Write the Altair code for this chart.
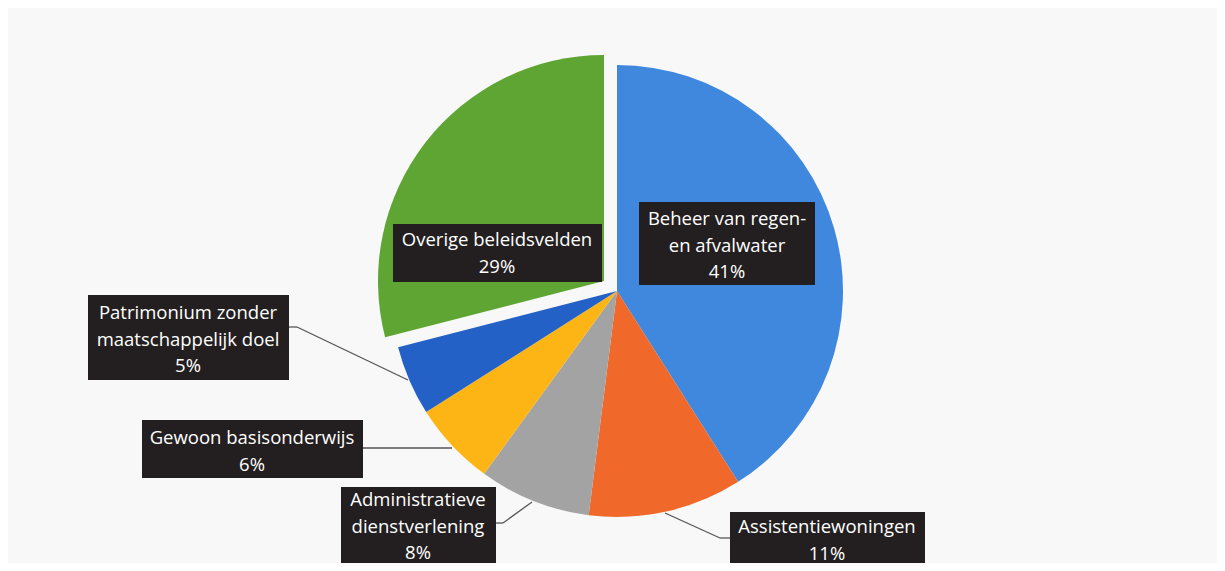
import altair as alt
import pandas as pd

# ---- data ----
categories = [
    "Beheer van regen- en afvalwater",
    "Assistentiewoningen",
    "Administratieve dienstverlening",
    "Gewoon basisonderwijs",
    "Patrimonium zonder maatschappelijk doel",
    "Overige beleidsvelden",
]
label_text = [
    "Beheer van regen-\nen afvalwater",
    "Assistentiewoningen",
    "Administratieve\ndienstverlening",
    "Gewoon basisonderwijs",
    "Patrimonium zonder\nmaatschappelijk doel",
    "Overige beleidsvelden",
]
shares = [41, 11, 8, 6, 5, 29]
slice_order = [1, 2, 3, 4, 5, 6]

# ---- style / layout ----
colors = ["#3f88de", "#f0692a", "#a3a3a3", "#fdb515", "#2461c6", "#5ea533"]
OFF = 8  # page margin (reference pixel -> chart pixel)
CX, CY, R = 617 - OFF, 291 - OFF, 226
EXPLODE = (-13, -10)
FONT = "Open Sans"
FS = 18.5
LH = 26.5
BOX = "#231f20"

# boxes: (x0, x1, y0, y1), first text line centre (x, y) in reference pixels
layout = {
    categories[0]: dict(box=(639, 815, 202, 285), txt=(727, 219)),
    categories[1]: dict(box=(730, 925, 512, 580), txt=(827, 527)),
    categories[2]: dict(box=(341, 496, 487, 580), txt=(418, 500)),
    categories[3]: dict(box=(142, 363, 420, 478), txt=(252, 438)),
    categories[4]: dict(box=(88, 289, 295, 380), txt=(188, 313)),
    categories[5]: dict(box=(393, 602, 224, 282), txt=(497, 240)),
}
leaders = {
    categories[1]: [(665, 513, 720, 538), (720, 538, 730, 538)],
    categories[2]: [(496, 523, 503, 523), (503, 523, 532, 502)],
    categories[3]: [(363, 448, 452, 448)],
    categories[4]: [(289, 327, 297, 327), (297, 327, 408, 380)],
}

df = pd.DataFrame({
    "category": categories,
    "label": label_text,
    "share": shares,
    "order": slice_order,
})

color_scale = alt.Scale(domain=categories, range=colors)
theta_scale = alt.Scale(domain=[0, 100], range=[0, 6.283185307179586])

base = alt.Chart(df).transform_stack(
    stack="share", as_=["s0", "s1"], groupby=[],
    sort=[alt.SortField("order", order="ascending")],
)

def pie_layer(filter_expr, dx, dy):
    return base.transform_filter(filter_expr).mark_arc(radius=R).encode(
        theta=alt.Theta("s0:Q", scale=theta_scale),
        theta2="s1:Q",
        color=alt.Color("category:N", scale=color_scale, legend=None),
        x=alt.value(CX + dx),
        y=alt.value(CY + dy),
    )

pie_main = pie_layer(alt.datum.category != categories[5], 0, 0)
pie_expl = pie_layer(alt.datum.category == categories[5], EXPLODE[0], EXPLODE[1])

layers = []
for cat, segs in leaders.items():
    for (x1, y1, x2, y2) in segs:
        layers.append(
            alt.Chart(df).transform_filter(alt.datum.category == cat)
            .mark_rule(color="#555555", strokeWidth=1.3)
            .encode(x=alt.value(x1 - OFF), y=alt.value(y1 - OFF),
                    x2=alt.value(x2 - OFF), y2=alt.value(y2 - OFF))
        )
layers += [pie_main, pie_expl]

for cat, lay in layout.items():
    x0, x1, y0, y1 = lay["box"]
    tx, ty = lay["txt"]
    layers.append(
        alt.Chart(df).transform_filter(alt.datum.category == cat)
        .mark_rect(color=BOX)
        .encode(x=alt.value(x0 - OFF), x2=alt.value(x1 - OFF),
                y=alt.value(y0 - OFF), y2=alt.value(y1 - OFF))
    )
    layers.append(
        alt.Chart(df).transform_filter(alt.datum.category == cat)
        .transform_calculate(txt=alt.datum.label + "\n" + alt.datum.share + "%")
        .mark_text(lineBreak="\n", color="white", font=FONT, fontSize=FS,
                   lineHeight=LH, align="center", baseline="middle")
        .encode(x=alt.value(tx - OFF), y=alt.value(ty - OFF), text="txt:N")
    )

chart = alt.layer(*layers).properties(
    width=1209, height=555,
    autosize=alt.AutoSizeParams(type="fit", contains="padding"),
    padding=0,
    background="#f9f8f8",
).configure_view(stroke=None)

chart.save("out.html", embed_options={"renderer": "svg", "actions": False})
